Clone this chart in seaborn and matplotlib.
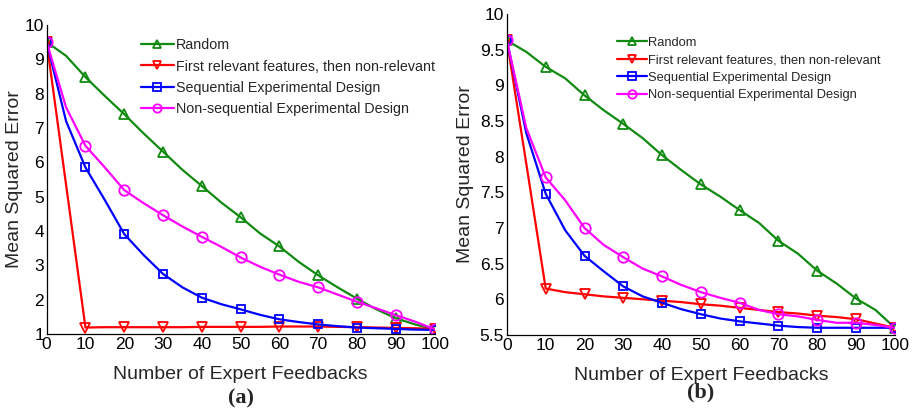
import numpy as np
import pandas as pd
import seaborn as sns
import matplotlib.pyplot as plt

# feedback counts (every 5, markers every 10)
feedbacks = list(range(0, 101, 5))

labels = ["Random",
          "First relevant features, then non-relevant",
          "Sequential Experimental Design",
          "Non-sequential Experimental Design"]

# panel (a)
a_random = [9.50, 9.10, 8.48, 7.93, 7.40, 6.84, 6.31, 5.78, 5.31, 4.83, 4.40,
            3.93, 3.55, 3.10, 2.71, 2.36, 2.03, 1.72, 1.46, 1.28, 1.14]
a_first = [9.50, 5.35, 1.19, 1.20, 1.20, 1.20, 1.20, 1.20, 1.21, 1.21, 1.21,
           1.21, 1.22, 1.22, 1.22, 1.21, 1.20, 1.19, 1.18, 1.17, 1.15]
a_seq = [9.50, 7.20, 5.85, 4.90, 3.91, 3.30, 2.75, 2.36, 2.06, 1.87, 1.72,
         1.56, 1.43, 1.35, 1.28, 1.23, 1.19, 1.17, 1.15, 1.13, 1.12]
a_nonseq = [9.50, 7.60, 6.48, 5.85, 5.19, 4.81, 4.46, 4.13, 3.83, 3.54, 3.23,
            2.96, 2.73, 2.52, 2.36, 2.15, 1.94, 1.75, 1.55, 1.36, 1.14]

# panel (b)
b_random = [9.63, 9.47, 9.26, 9.10, 8.86, 8.65, 8.46, 8.26, 8.02, 7.81, 7.61,
            7.44, 7.25, 7.07, 6.82, 6.64, 6.40, 6.22, 6.01, 5.85, 5.60]
b_first = [9.63, 7.90, 6.15, 6.10, 6.07, 6.04, 6.02, 6.00, 5.98, 5.96, 5.93,
           5.91, 5.88, 5.85, 5.82, 5.80, 5.77, 5.75, 5.72, 5.66, 5.60]
b_seq = [9.63, 8.33, 7.48, 6.97, 6.61, 6.39, 6.18, 6.04, 5.95, 5.86, 5.79,
         5.73, 5.69, 5.66, 5.63, 5.61, 5.60, 5.60, 5.60, 5.60, 5.60]
b_nonseq = [9.63, 8.40, 7.71, 7.39, 7.00, 6.76, 6.59, 6.43, 6.32, 6.20, 6.10,
            6.02, 5.95, 5.85, 5.79, 5.76, 5.71, 5.67, 5.67, 5.64, 5.60]

colors = ["#108a10", "#ff0000", "#0000ff", "#ff00ff"]
markers = ["^", "v", "s", "o"]
msizes = [7.5, 7.5, 6, 7.5]

sns.set_style("white")
plt.rcParams['font.family'] = ['Liberation Sans', 'DejaVu Sans']

fig = plt.figure(figsize=(9.15, 4.15), dpi=100)
ax_a = fig.add_axes([0.051, 0.195, 0.424, 0.745])
ax_b = fig.add_axes([0.554, 0.193, 0.424, 0.773])


def draw_panel(ax, series, ylim, yticks, ytl, leg_anchor, leg_fs, spacing,
               ylpad, tag_y, tag):
    for vals, lab, c, m, ms in zip(series, labels, colors, markers, msizes):
        df = pd.DataFrame({"x": feedbacks, "y": vals})
        sns.lineplot(data=df, x="x", y="y", ax=ax, color=c, marker=m,
                     markersize=ms, markevery=2, markerfacecolor="none",
                     markeredgecolor=c, markeredgewidth=1.3, linewidth=1.6,
                     label=lab)
    ax.set_xlim(0, 100)
    ax.set_ylim(*ylim)
    ax.set_xticks(range(0, 101, 10))
    ax.set_yticks(yticks)
    ax.set_yticklabels(ytl)
    ax.tick_params(direction="in", length=3, width=0.8, labelsize=12.5, pad=2,
                   colors="black")
    for s in ["top", "right"]:
        ax.spines[s].set_visible(False)
    for s in ["left", "bottom"]:
        ax.spines[s].set_color("black")
        ax.spines[s].set_linewidth(0.9)
    ax.set_xlabel("Number of Expert Feedbacks", fontsize=14, labelpad=10)
    ax.set_ylabel("Mean Squared Error", fontsize=14, labelpad=ylpad)
    leg = ax.legend(loc="upper left", bbox_to_anchor=leg_anchor, frameon=False,
                    fontsize=leg_fs, handlelength=2.3, handletextpad=0.15,
                    labelspacing=spacing, borderaxespad=0)
    for h in leg.legend_handles:
        h.set_markersize(6)
    ax.text(0.5, tag_y, tag, transform=ax.transAxes, ha="center", va="center",
            fontsize=16, fontweight="bold", family="Liberation Serif")


draw_panel(ax_a, [a_random, a_first, a_seq, a_nonseq], (1, 10),
           range(1, 11), [str(v) for v in range(1, 11)], (0.228, 0.975),
           10.3, 0.5, 1, -0.207, "(a)")
b_ticks = np.arange(5.5, 10.01, 0.5)
draw_panel(ax_b, [b_random, b_first, b_seq, b_nonseq], (5.5, 10),
           b_ticks, [f"{v:g}" for v in b_ticks], (0.27, 0.945),
           9.3, 0.42, 4, -0.181, "(b)")

fig.savefig("out.png", dpi=100)
